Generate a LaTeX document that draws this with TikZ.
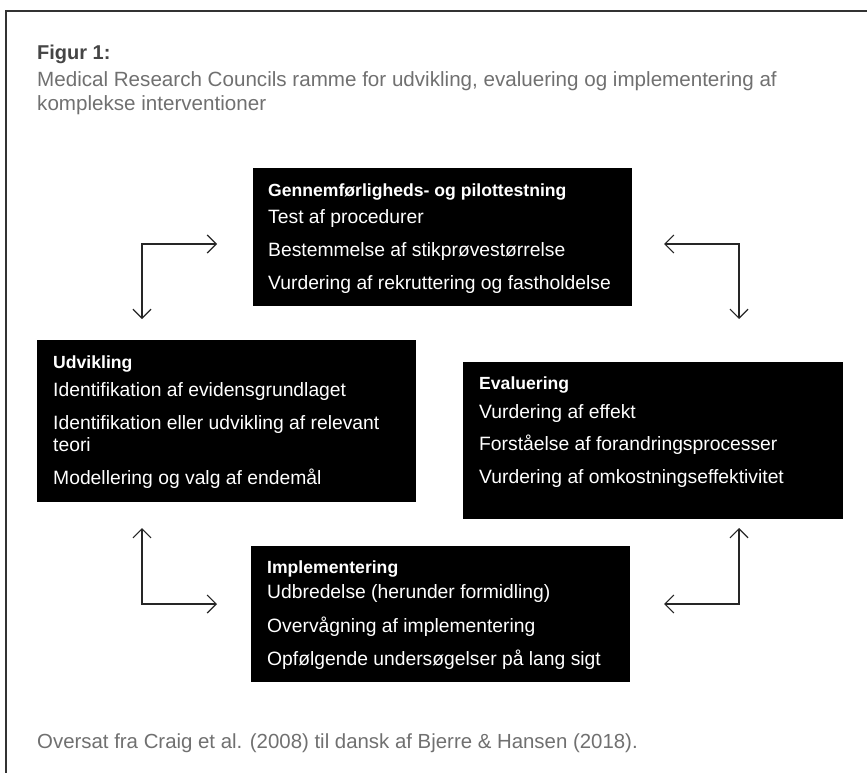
\documentclass[tikz,border=0pt]{standalone}
\usepackage{fontspec}
\setmainfont{Liberation Sans}
\usetikzlibrary{arrows.meta}
\definecolor{capgrey}{HTML}{707070}
\definecolor{titlegrey}{HTML}{454545}

\begin{document}
\begin{tikzpicture}[x=1pt, y=-1pt,
    box/.style={fill=black, draw=none, anchor=north west, minimum width=379pt, inner sep=0pt},
    boxtext/.style={text=white, anchor=north west, align=left, inner sep=0pt, font=\fontsize{19.3}{22}\selectfont},
    head/.style={font=\bfseries\fontsize{17.6}{22}\selectfont},
    loop/.style={{Straight Barb[length=9pt,width=18pt]}-{Straight Barb[length=9pt,width=18pt]}, line width=1.2pt, draw=black!85}]
    \useasboundingbox (0,0) rectangle (867,773);
    \draw[line width=1.5pt, black!80] (6,773) -- (6,11) -- (867,11);

    \node[anchor=base west, inner sep=0pt, text=titlegrey, font=\bfseries\fontsize{20}{24}\selectfont] (title) at (37,60) {Figur 1:};
    \node[anchor=north west, inner sep=0pt, text=capgrey, align=left, font=\fontsize{20.6}{24}\selectfont] (sub) at (37,71)
        {Medical Research Councils ramme for udvikling, evaluering og implementering af\\komplekse interventioner};

    \node[box, minimum height=138pt] (pilot) at (253,168) {};
    \node[boxtext] (pilottxt) at ([shift={(15,16)}]pilot.north west)
        {\textbf{\fontsize{17.6}{22}\selectfont Gennemførligheds- og pilottestning}\\[5pt]
         Test af procedurer\\[11pt]
         Bestemmelse af stikprøvestørrelse\\[11pt]
         Vurdering af rekruttering og fastholdelse};

    \node[box, minimum height=162pt] (udv) at (37,340) {};
    \node[boxtext] (udvtxt) at ([shift={(16,16)}]udv.north west)
        {\textbf{\fontsize{17.6}{22}\selectfont Udvikling}\\[6pt]
         Identifikation af evidensgrundlaget\\[11pt]
         Identifikation eller udvikling af relevant\\
         teori\\[11pt]
         Modellering og valg af endemål};

    \node[box, minimum width=380pt, minimum height=157pt] (eval) at (463,362) {};
    \node[boxtext] (evaltxt) at ([shift={(16,15)}]eval.north west)
        {\textbf{\fontsize{17.6}{22}\selectfont Evaluering}\\[7pt]
         Vurdering af effekt\\[10pt]
         Forståelse af forandringsprocesser\\[11pt]
         Vurdering af omkostningseffektivitet};

    \node[box, minimum height=136pt] (impl) at (251,546) {};
    \node[boxtext] (impltxt) at ([shift={(16,15)}]impl.north west)
        {\textbf{\fontsize{17.6}{22}\selectfont Implementering}\\[3pt]
         Udbredelse (herunder formidling)\\[12pt]
         Overvågning af implementering\\[11pt]
         Opfølgende undersøgelser på lang sigt};

    \node[anchor=base west, inner sep=0pt, text=capgrey, font=\fontsize{20.4}{24}\selectfont] (source) at (37,748)
        {Oversat fra Craig et al. (2008) til dansk af Bjerre \& Hansen (2018).};

    % loop arrows between the phases
    \coordinate (tlA) at (142,319);
    \coordinate (tlB) at (217,244);
    \coordinate (trA) at (739,319);
    \coordinate (trB) at (664,244);
    \coordinate (blA) at (142,528);
    \coordinate (blB) at (217,604);
    \coordinate (brA) at (739,528);
    \coordinate (brB) at (664,604);
    \draw[loop] (tlA) |- (tlB);
    \draw[loop] (trA) |- (trB);
    \draw[loop] (blA) |- (blB);
    \draw[loop] (brA) |- (brB);
\end{tikzpicture}
\end{document}
